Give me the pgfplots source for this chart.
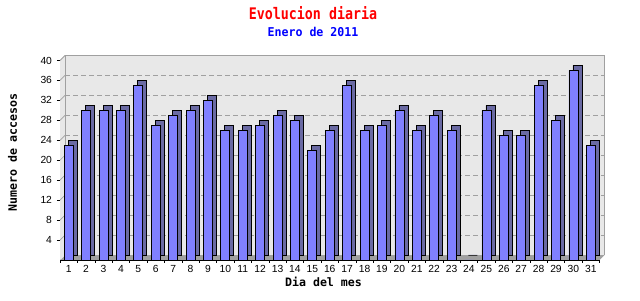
\documentclass[border=0pt]{standalone}
\usepackage{fontspec}
\usepackage{graphicx}
\usepackage{pgfplots}
\usepackage{pgfplotstable}
\pgfplotsset{compat=1.18}
\newfontfamily\monob{DejaVu Sans Mono}
\newfontfamily\ticksans{Liberation Sans}
\definecolor{barfront}{HTML}{8080FF}
\definecolor{barside}{HTML}{6A6AA3}
\definecolor{wall}{HTML}{E8E8E8}
\definecolor{floorc}{HTML}{A0A0A0}
\definecolor{gridc}{HTML}{A0A0A0}
\pgfplotstableread{
dia accesos
1 23
2 30
3 30
4 30
5 35
6 27
7 29
8 30
9 32
10 26
11 26
12 27
13 29
14 28
15 22
16 26
17 35
18 26
19 27
20 30
21 26
22 29
23 26
24 0
25 30
26 25
27 25
28 35
29 28
30 38
31 23
}\datatable
\begin{document}
\begin{tikzpicture}[x=1pt,y=1pt]
\path[use as bounding box] (0,0) rectangle (640,300);
\begin{axis}[
  at={(60pt,40pt)}, anchor=south west,
  width=539.5pt, height=199.5pt, scale only axis,
  xmin=0.5, xmax=31.5, ymin=0, ymax=40,
  clip=false,
  axis x line*=bottom, axis y line*=left,
  x axis line style={black, line width=0.8pt},
  y axis line style={black!70, line width=0.8pt},
  ybar, bar width=9pt,
  xtick={1,...,31},
  minor xtick={0.5,1.5,...,31.5},
  ytick={4,8,...,40},
  tick align=outside,
  major x tick style={draw=none},
  minor x tick style={black, line width=0.6pt},
  y tick style={black, line width=0.6pt},
  major tick length=3pt, minor tick length=3pt,
  /pgf/number format/assume math mode=true,
  ticklabel style={font=\fontsize{10.3}{11}\selectfont\ticksans},
  xticklabel style={yshift=1pt},
  yticklabel style={xshift=-1.5pt},
]
% floor
\fill[floorc] (axis cs:0.5,0) -- (axis cs:31.5,0) -- ([xshift=5pt,yshift=5pt]axis cs:31.5,0) -- ([xshift=5pt,yshift=5pt]axis cs:0.5,0) -- cycle;
% left side wall
\fill[wall] (axis cs:0.5,0) -- ([xshift=5pt,yshift=5pt]axis cs:0.5,0) -- ([xshift=5pt,yshift=5pt]axis cs:0.5,40) -- (axis cs:0.5,40) -- cycle;
% back wall
\fill[wall] ([xshift=5pt,yshift=5pt]axis cs:0.5,0) rectangle ([xshift=5pt,yshift=5pt]axis cs:31.5,40);
\draw[gridc, line width=0.8pt] ([xshift=5pt,yshift=5pt]axis cs:0.5,0) -- ([xshift=5pt,yshift=5pt]axis cs:0.5,40) -- ([xshift=5pt,yshift=5pt]axis cs:31.5,40) -- ([xshift=5pt,yshift=5pt]axis cs:31.5,0);
\draw[gridc, line width=0.8pt] (axis cs:0.5,40) -- ([xshift=5pt,yshift=5pt]axis cs:0.5,40);
\pgfplotsinvokeforeach{4,8,12,16,20,24,28,32,36}{
  \draw[gridc, dashed, dash pattern=on 5pt off 3pt, line width=0.7pt] ([xshift=5pt,yshift=5pt]axis cs:0.5,#1) -- ([xshift=5pt,yshift=5pt]axis cs:31.5,#1);
  \draw[gridc, line width=0.7pt] (axis cs:0.5,#1) -- ([xshift=5pt,yshift=5pt]axis cs:0.5,#1);
}
% bars: side/top then front
\addplot[draw=black, line width=0.7pt, fill=barside, bar shift=4pt, yshift=5pt] table[x=dia, y=accesos] {\datatable};
\addplot[draw=black, line width=0.7pt, fill=barfront, bar shift=0pt] table[x=dia, y=accesos] {\datatable};
\end{axis}
\node[text=red, font=\fontsize{13.3}{14}\selectfont\monob\bfseries] at (313,286.5) {\scalebox{1}[1.2]{Evolucion diaria}};
\node[text=blue, font=\fontsize{11.6}{12}\selectfont\monob\bfseries] at (313,268) {\scalebox{1}[1.05]{Enero de 2011}};
\node[rotate=90, font=\fontsize{11.6}{12}\selectfont\monob\bfseries] at (12.5,147.5) {Numero de accesos};
\node[font=\fontsize{11.6}{12}\selectfont\monob\bfseries] at (323.5,18) {Dia del mes};
\end{tikzpicture}
\end{document}
